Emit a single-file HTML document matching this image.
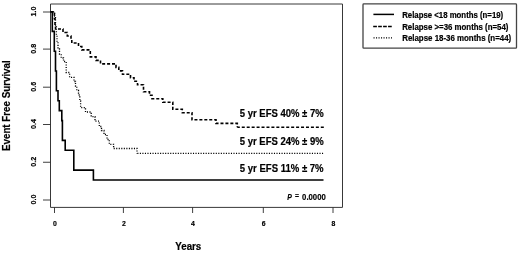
<!DOCTYPE html>
<html><head><meta charset="utf-8"><title>Event Free Survival</title>
<style>
html,body{margin:0;padding:0;background:#fff;}
svg{display:block;filter:blur(0.3px);}
text{font-family:"Liberation Sans",sans-serif;font-weight:bold;fill:#000;}
</style></head><body>
<svg width="520" height="253" viewBox="0 0 520 253">
<rect width="520" height="253" fill="#fff"/>
<!-- plot frame -->
<path d="M50.5,4 H342.5 V207.4 H50.5 Z" fill="none" stroke="#383838" stroke-width="1"/>
<!-- y ticks -->
<g stroke="#2a2a2a" stroke-width="0.9">
<line x1="43.0" x2="50.5" y1="200.00" y2="200.00"/>
<line x1="43.0" x2="50.5" y1="162.25" y2="162.25"/>
<line x1="43.0" x2="50.5" y1="124.50" y2="124.50"/>
<line x1="43.0" x2="50.5" y1="87.20" y2="87.20"/>
<line x1="43.0" x2="50.5" y1="49.10" y2="49.10"/>
<line x1="43.0" x2="50.5" y1="12.00" y2="12.00"/>
<line x1="54.5" x2="54.5" y1="207.4" y2="213"/>
<line x1="123.4" x2="123.4" y1="207.4" y2="213"/>
<line x1="192.6" x2="192.6" y1="207.4" y2="213"/>
<line x1="263.3" x2="263.3" y1="207.4" y2="213"/>
<line x1="333.0" x2="333.0" y1="207.4" y2="213"/>
</g>
<g font-size="8" text-anchor="middle" stroke="#000" stroke-width="0.2">
<text transform="translate(36.3,199.55) rotate(-90) scale(0.9,1)">0.0</text>
<text transform="translate(36.3,161.80) rotate(-90) scale(0.9,1)">0.2</text>
<text transform="translate(36.3,124.05) rotate(-90) scale(0.9,1)">0.4</text>
<text transform="translate(36.3,86.75) rotate(-90) scale(0.9,1)">0.6</text>
<text transform="translate(36.3,48.65) rotate(-90) scale(0.9,1)">0.8</text>
<text transform="translate(36.3,11.55) rotate(-90) scale(0.9,1)">1.0</text>
<text transform="translate(54.9,226) scale(0.86,1)">0</text>
<text transform="translate(123.8,226) scale(0.86,1)">2</text>
<text transform="translate(193.0,226) scale(0.86,1)">4</text>
<text transform="translate(263.7,226) scale(0.86,1)">6</text>
<text transform="translate(333.4,226) scale(0.86,1)">8</text>
</g>
<!-- curves -->
<path d="M50.5,11.8 H54.6 V16 H55.5 V25 H56.4 V35 H57 V42 H58 V49 H59.5 V54 H61.2 V58 H63.5 V61.5 H66.2 V65 V72.5 H69.6 V77.3 H74 V81.5 H75.5 V86 H76.8 V90.5 H78.5 V95 H79.8 V101 H80.6 V107.6 H85.5 V112 H91.2 V116.6 H95 V121.2 H99.3 V126.5 H101.5 V130.5 H104 V134.5 H107 V139.5 H109.3 V144.3 H113.6 V148.5 H137 V153.4" fill="none" stroke="#000" stroke-width="1.3" stroke-dasharray="1.1 1.43"/>
<path d="M323.1,153.4 H137" fill="none" stroke="#000" stroke-width="1.3" stroke-dasharray="1.1 1.43"/>
<path d="M50.5,11.8 H54.4 V18.6 H55 V25.5 H55.5 V29 H63 V32.5 H67.3 V36 H71 V39.5 H71.8 V43 H78.5 V46.5 H81.8 V49.9 H90.3 V56.9 H96 V60.4 H100.5 V63.9 H116 V67.4 H118.8 V70.9 H122.5 V74.3 H130.5 V77.8 H134 V81.3 H137.5 V84.8 H143.5 V91.8 H149.5 V95.3 H152 V98.7 H162.8 V102.2 H172.8 V109.2 H182.3 V112.7 H192 V119.8 H216 V123.4 H237.3 V127.3" fill="none" stroke="#000" stroke-width="1.6" stroke-dasharray="3 1.94"/>
<path d="M323.8,127.3 H237.3" fill="none" stroke="#000" stroke-width="1.6" stroke-dasharray="3 1.94"/>
<path d="M50.5,11.8 H52.3 V31.4 H54.3 V51.2 H55.5 V71 H56.4 V90.8 H58 V100.7 H59.3 V110.6 H61.8 V120.6 H62.4 V140.4 H65.2 V150.3 H73.8 V170.1 H93.4 V180 H323.5" fill="none" stroke="#000" stroke-width="1.6"/>
<!-- annotations -->
<g font-size="10.2" stroke="#000" stroke-width="0.2">
<text x="239.8" y="116.7" textLength="83.8" lengthAdjust="spacingAndGlyphs">5 yr EFS 40% ± 7%</text>
<text x="239.8" y="145" textLength="83.8" lengthAdjust="spacingAndGlyphs">5 yr EFS 24% ± 9%</text>
<text x="239.8" y="171.8" textLength="83.8" lengthAdjust="spacingAndGlyphs">5 yr EFS 11% ± 7%</text>
<text x="175.3" y="250.2" textLength="26" lengthAdjust="spacingAndGlyphs">Years</text>
<text transform="translate(10.4,151) rotate(-90)" textLength="90.7" lengthAdjust="spacingAndGlyphs">Event Free Survival</text>
</g>
<text y="199.7" font-size="8.2" stroke="#000" stroke-width="0.15"><tspan x="287.2" font-style="italic" textLength="4.6" lengthAdjust="spacingAndGlyphs">P</tspan><tspan x="295" dy="-1.4" font-size="8" textLength="4" lengthAdjust="spacingAndGlyphs">=</tspan><tspan x="302.1" dy="1.4" textLength="23.7" lengthAdjust="spacingAndGlyphs">0.0000</tspan></text>
<!-- legend -->
<rect x="363" y="3.9" width="153.5" height="44.3" rx="0.8" fill="#fff" stroke="#444" stroke-width="1.3"/>
<line x1="373.4" x2="394" y1="14.4" y2="14.4" stroke="#000" stroke-width="1.5"/>
<line x1="373.2" x2="391.9" y1="26.6" y2="26.6" stroke="#000" stroke-width="1.5" stroke-dasharray="3.7 1.25"/>
<line x1="373.5" x2="392" y1="37.9" y2="37.9" stroke="#000" stroke-width="1.3" stroke-dasharray="1.1 1.4"/>
<g font-size="8.5" stroke="#000" stroke-width="0.2">
<text x="402.2" y="18.4" textLength="101" lengthAdjust="spacingAndGlyphs">Relapse &lt;18 months (n=19)</text>
<text x="402.2" y="29.7" textLength="106.3" lengthAdjust="spacingAndGlyphs">Relapse &gt;=36 months (n=54)</text>
<text x="402.2" y="40.6" textLength="109" lengthAdjust="spacingAndGlyphs">Relapse 18-36 months (n=44)</text>
</g>
</svg>
</body></html>
